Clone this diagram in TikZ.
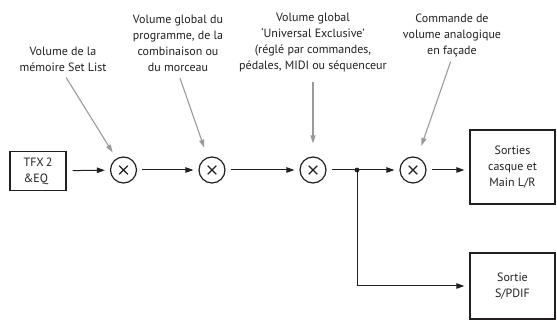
\documentclass[tikz,border=0pt]{standalone}
\usepackage{fontspec}
\setmainfont{PT Sans}
\usepackage{xcolor}
\usepackage{tikz}
\usetikzlibrary{positioning,arrows.meta}
\definecolor{ink}{HTML}{231F20}
\definecolor{ctlgray}{HTML}{9A9A9A}

\begin{document}
\begin{tikzpicture}[x=1pt,y=-1pt,font=\fontsize{12}{16}\selectfont,text=ink,
     blk/.style={draw=ink,line width=1.3pt,minimum width=56pt,minimum height=39pt},
     outbox/.style={draw=ink,line width=1.3pt,minimum width=85pt,align=center},
     mix/.style={circle,draw=ink,line width=1.2pt,minimum size=26pt,inner sep=0pt,
        path picture={\draw[ink,line width=1.2pt]
           ([shift={(-4.3,-4.3)}]path picture bounding box.center)--([shift={(4.3,4.3)}]path picture bounding box.center)
           ([shift={(-4.3,4.3)}]path picture bounding box.center)--([shift={(4.3,-4.3)}]path picture bounding box.center);}},
     lbl/.style={align=center,inner sep=1pt},
     sig/.style={draw=ink,line width=1pt,-{Triangle[length=8pt,width=5.5pt]}},
     ctl/.style={draw=ctlgray,line width=1.1pt,-{Triangle[length=8pt,width=5pt]}}]
    \useasboundingbox (0,0) rectangle (557,320);
    \node[blk,align=left](tfx) at (38,171){TFX\,2\\\&EQ};
    \node[mix](m1) at (123.5,170){}; \node[mix](m2) at (212,170){};
    \node[mix](m3) at (313,170){}; \node[mix](m4) at (413,170){};
    \coordinate (split) at (357,170);
    \node[outbox,minimum height=74pt](outmain) at (512.5,167){Sorties\\casque et\\Main L/R};
    \node[outbox,minimum height=66pt](outspdif) at (512.5,286){Sortie\\S/PDIF};
    % labels above the mixers
    \node[lbl](l1) at (63,59){Volume de la\\mémoire Set List};
    \node[lbl](l2) at (178,43){Volume global du\\programme, de la\\combinaison ou\\du morceau};
    \node[lbl](l3) at (313,43){Volume global\\`Universal Exclusive'\\(réglé par commandes,\\pédales, MIDI ou séquenceur};
    \node[lbl](l4) at (452,35){Commande de\\volume analogique\\en façade};
    \draw[ctl,shorten <=6pt,shorten >=7pt](l1.south)--(m1);
    \draw[ctl,shorten <=6pt,shorten >=10pt](l2.south)--(m2);
    \draw[ctl,shorten <=8pt,shorten >=13pt](l3.south)--(m3);
    \draw[ctl,shorten <=4pt,shorten >=12pt](l4.south)--(m4);
    % signal path
    \draw[sig,shorten <=6pt,shorten >=5pt](tfx)--(m1);
    \draw[sig,shorten <=5pt,shorten >=5pt](m1)--(m2);
    \draw[sig,shorten <=5pt,shorten >=5pt](m2)--(m3);
    \draw[draw=ink,line width=1pt,shorten <=5pt](m3)--(split);
    \draw[sig,shorten >=5pt](split)--(m4);
    \draw[sig,shorten <=5pt,shorten >=5pt](m4)--(m4-|outmain.west);
    \draw[sig,shorten >=5pt](split)|-(outspdif);
    \fill[ink](split) circle (2.4pt);
  \end{tikzpicture}
\end{document}
